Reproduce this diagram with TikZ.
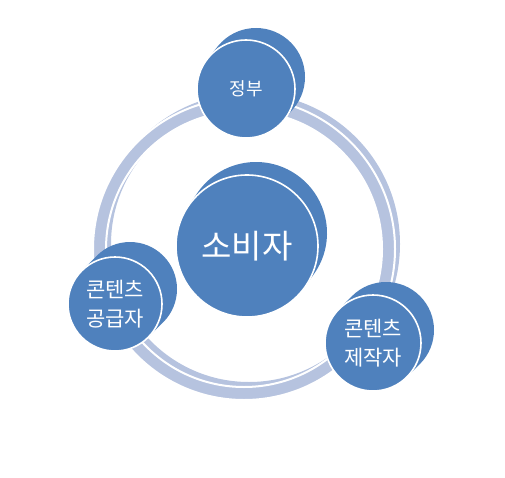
\documentclass[tikz,border=0pt]{standalone}
\usepackage{fontspec}
\newfontfamily\krfont{Noto Sans CJK KR}
\usetikzlibrary{calc}
\definecolor{discblue}{RGB}{79,129,189}
\definecolor{ringblue}{RGB}{182,195,223}

\begin{document}
\begin{tikzpicture}[
		x=1pt,y=-1pt,
		every node/.style={font=\krfont, text=white, align=center},
		disc/.style={circle, fill=discblue, draw=white, line width=1.6pt, inner sep=0pt},
		rim/.style={fill=discblue},
		smalltxt/.style={font=\krfont\fontsize{21}{29}\selectfont},
		bigtxt/.style={font=\krfont\fontsize{33}{38}\selectfont}
		]
		
		\useasboundingbox (0,0) rectangle (505,478);
		
		% =========================
		% Ring: back rim, then front band
		% =========================
		\fill[ringblue, even odd rule] (249,244) circle (151pt) (249,244) circle (138pt);
		\filldraw[fill=ringblue, draw=white, line width=2pt, even odd rule]
		(244,249) circle (151pt) (244,249) circle (138pt);
		
		% front and back centres of the discs
		\coordinate (consumerc) at (247,246);
		\coordinate (consumerb) at (256,233);
		\coordinate (govc) at (246,89);
		\coordinate (govb) at (256,77);
		\coordinate (supplierc) at (115,304);
		\coordinate (supplierb) at (130,289);
		\coordinate (producerc) at (373,343);
		\coordinate (producerb) at (386,330);
		
		% =========================
		% Centre disc
		% =========================
		\fill[rim] ($(consumerc)+(145:71pt)$) -- ($(consumerb)+(145:71pt)$)
		arc[start angle=145, end angle=-35, radius=71pt] -- ($(consumerc)+(-35:71pt)$) -- cycle;
		\node[disc, bigtxt, minimum size=142pt] (consumer) at (consumerc) {소비자};
		
		% =========================
		% Outer discs
		% =========================
		\fill[rim] ($(govc)+(140:49pt)$) -- ($(govb)+(140:49pt)$)
		arc[start angle=140, end angle=-40, radius=49pt] -- ($(govc)+(-40:49pt)$) -- cycle;
		\node[disc, font=\krfont\fontsize{18}{20}\selectfont, minimum size=98pt] (gov) at (govc) {정부};
		
		\fill[rim] ($(supplierc)+(135:47pt)$) -- ($(supplierb)+(135:47pt)$)
		arc[start angle=135, end angle=-45, radius=47pt] -- ($(supplierc)+(-45:47pt)$) -- cycle;
		\node[disc, smalltxt, minimum size=94pt] (supplier) at (supplierc) {콘텐츠\\공급자};
		
		\fill[rim] ($(producerc)+(135:48pt)$) -- ($(producerb)+(135:48pt)$)
		arc[start angle=135, end angle=-45, radius=48pt] -- ($(producerc)+(-45:48pt)$) -- cycle;
		\node[disc, smalltxt, minimum size=96pt] (producer) at (producerc) {콘텐츠\\제작자};
		
	\end{tikzpicture}
\end{document}
